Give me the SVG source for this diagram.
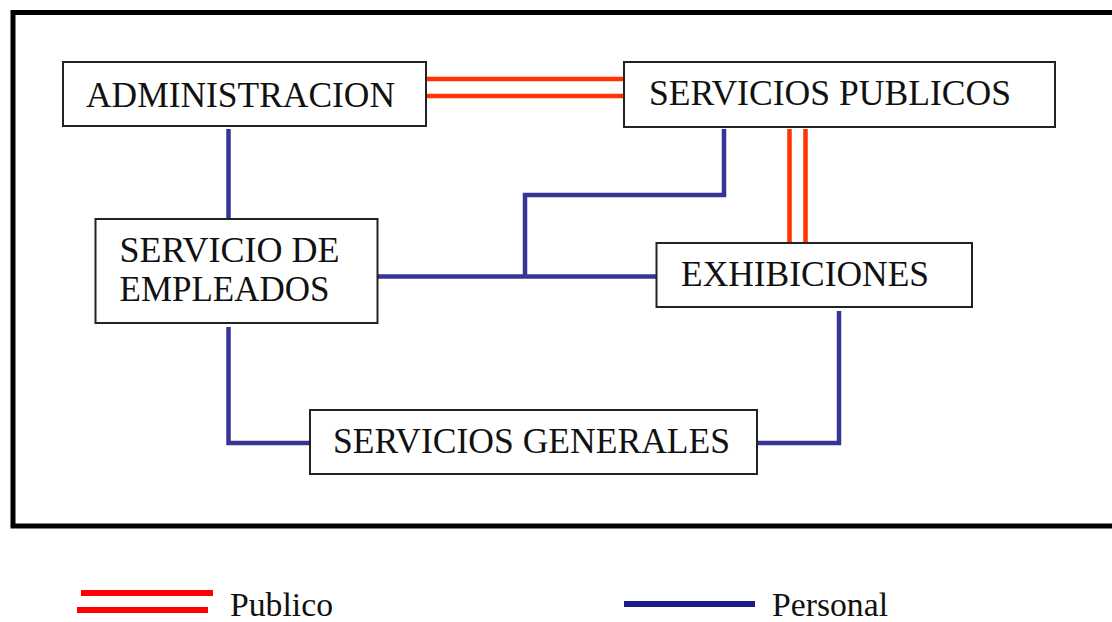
<svg xmlns="http://www.w3.org/2000/svg" width="1112" height="622" viewBox="0 0 1112 622">
<style>
.box{fill:#fff;stroke:#222;stroke-width:2}
.pub{fill:none;stroke:#ff3300;stroke-width:4.5}
.per{fill:none;stroke:#353598;stroke-width:4.5}
</style>
<rect width="1112" height="622" fill="#fff"/>
<polyline points="1120,12.5 13,12.5 13,526 1120,526" fill="none" stroke="#000" stroke-width="5"/>
<g id="connectors">
<line class="pub" x1="426" y1="79" x2="624" y2="79"/>
<line class="pub" x1="426" y1="96" x2="624" y2="96"/>
<line class="pub" x1="789.5" y1="129" x2="789.5" y2="243"/>
<line class="pub" x1="805.5" y1="129" x2="805.5" y2="243"/>
<line class="per" x1="228.5" y1="129" x2="228.5" y2="228"/>
<line class="per" x1="377" y1="276.5" x2="656" y2="276.5"/>
<polyline class="per" points="525,276.5 525,195 724,195 724,129"/>
<polyline class="per" points="228.5,327 228.5,443 310,443"/>
<polyline class="per" points="757,443 839,443 839,311"/>
</g>
<g font-family="Liberation Serif, DejaVu Serif, Times New Roman, serif" font-size="35" fill="#111">
<g id="administracion">
<rect class="box" x="63" y="62" width="363" height="64"/>
<text x="86" y="107" textLength="309" lengthAdjust="spacingAndGlyphs">ADMINISTRACION</text>
</g>
<g id="servicios-publicos">
<rect class="box" x="624" y="62" width="431" height="65"/>
<text x="649" y="105" textLength="362" lengthAdjust="spacingAndGlyphs">SERVICIOS PUBLICOS</text>
</g>
<g id="servicio-empleados">
<rect class="box" x="95.5" y="219" width="282" height="104"/>
<text x="119.5" y="262" textLength="220" lengthAdjust="spacingAndGlyphs">SERVICIO DE</text>
<text x="119.5" y="301" textLength="210" lengthAdjust="spacingAndGlyphs">EMPLEADOS</text>
</g>
<g id="exhibiciones">
<rect class="box" x="656.5" y="243" width="315.5" height="64"/>
<text x="681" y="286" textLength="248" lengthAdjust="spacingAndGlyphs">EXHIBICIONES</text>
</g>
<g id="servicios-generales">
<rect class="box" x="310" y="410" width="447" height="64"/>
<text x="333" y="453" textLength="397" lengthAdjust="spacingAndGlyphs">SERVICIOS GENERALES</text>
</g>
<g id="legend" font-size="34">
<line x1="81" y1="593" x2="213" y2="593" stroke="#ff0000" stroke-width="6"/>
<line x1="77" y1="610" x2="208" y2="610" stroke="#ff0000" stroke-width="6"/>
<text x="230" y="616" textLength="103" lengthAdjust="spacingAndGlyphs">Publico</text>
<line x1="624" y1="604" x2="755" y2="604" stroke="#1c1c88" stroke-width="6"/>
<text x="772" y="616" textLength="116" lengthAdjust="spacingAndGlyphs">Personal</text>
</g>
</g>
</svg>
